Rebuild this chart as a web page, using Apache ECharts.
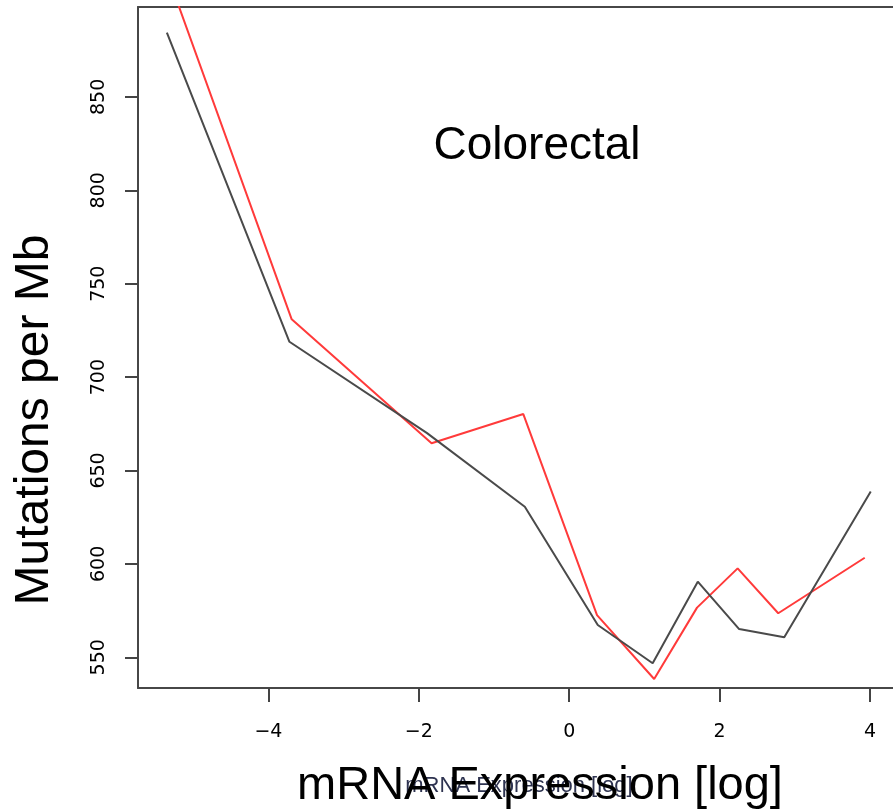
<!DOCTYPE html>
<html>
<head>
<meta charset="utf-8">
<script src="https://cdn.jsdelivr.net/npm/echarts@6/dist/echarts.min.js"></script>
<style>
  html, body { margin: 0; padding: 0; background: #ffffff; }
  #chart { width: 893px; height: 810px; }
</style>
</head>
<body>
<div id="chart"></div>
<script>
// Mean mutation burden per expression bin (colorectal tumours)
const blackX = [-5.35, -3.72, -1.89, -0.59, 0.38, 1.11, 1.71, 2.26, 2.86, 4.01];
const blackY = [884.4, 718.9, 670.0, 630.6, 567.3, 546.8, 590.5, 565.1, 560.7, 638.7];
const redX = [-5.33, -3.69, -1.83, -0.61, 0.37, 1.13, 1.70, 2.24, 2.78, 3.93];
const redY = [914.0, 730.9, 664.6, 680.2, 572.6, 538.4, 576.6, 597.6, 573.6, 603.3];

const xTicks = [-4, -2, 0, 2, 4];
const yTicks = [550, 600, 650, 700, 750, 800, 850];

const titleText = 'Colorectal';
const xName = 'mRNA Expression [log]';
const yName = 'Mutations per Mb';

const pairs = (xs, ys) => xs.map((x, i) => [x, ys[i]]);
const fmt = v => (v < 0 ? '\u2212' + Math.abs(v) : String(v));

const frame = { show: true, onZero: false, lineStyle: { color: '#474747', width: 2 } };

const chart = echarts.init(document.getElementById('chart'), null, { renderer: 'canvas' });

chart.setOption({
  animation: false,
  backgroundColor: '#ffffff',
  grid: { left: 138, top: 7, right: 0, bottom: 122 },
  xAxis: [
    {
      type: 'value', position: 'bottom',
      min: -5.734, max: 4.306,
      axisLine: frame,
      splitLine: { show: false },
      axisTick: { show: true, inside: false, length: 14, customValues: xTicks,
                  lineStyle: { color: '#444', width: 2 } },
      axisLabel: { customValues: xTicks, formatter: fmt, margin: 35,
                   color: '#000', fontSize: 19, fontFamily: 'DejaVu Sans' }
    },
    {
      // top edge of the plot frame
      type: 'value', position: 'top',
      min: -5.734, max: 4.306,
      axisLine: frame,
      splitLine: { show: false },
      axisTick: { show: false },
      axisLabel: { show: false }
    }
  ],
  yAxis: {
    type: 'value',
    min: 533.57, max: 898.1,
    axisLine: frame,
    splitLine: { show: false },
    axisTick: { show: true, inside: false, length: 13, customValues: yTicks,
                lineStyle: { color: '#444', width: 2 } },
    axisLabel: { customValues: yTicks, rotate: 90, margin: 29,
                 color: '#000', fontSize: 19, fontFamily: 'DejaVu Sans' }
  },
  series: [
    {
      type: 'line', xAxisIndex: 0, data: pairs(redX, redY), symbol: 'none', clip: true,
      lineStyle: { color: '#ff3a3a', width: 2 }, z: 2
    },
    {
      type: 'line', xAxisIndex: 0, data: pairs(blackX, blackY), symbol: 'none', clip: true,
      lineStyle: { color: '#4a4a4a', width: 2 }, z: 3
    }
  ],
  graphic: [
    {
      type: 'text', x: 537, y: 146, z: 10,
      style: { text: titleText, fontSize: 46, fontFamily: 'Liberation Sans',
               fill: '#000', textAlign: 'center', textVerticalAlign: 'middle' }
    },
    {
      type: 'text', x: 519, y: 786, z: 10,
      style: { text: xName, fontSize: 22, fontFamily: 'Liberation Sans',
               fill: '#2e3350', textAlign: 'center', textVerticalAlign: 'middle' }
    },
    {
      type: 'text', x: 540, y: 786, z: 11,
      style: { text: xName, fontSize: 47, fontFamily: 'Liberation Sans',
               fill: '#000', textAlign: 'center', textVerticalAlign: 'middle' }
    },
    {
      type: 'text', x: 35, y: 420, rotation: Math.PI / 2, z: 11,
      style: { text: yName, fontSize: 48, fontFamily: 'Liberation Sans',
               fill: '#000', textAlign: 'center', textVerticalAlign: 'middle' }
    }
  ]
});
</script>
</body>
</html>
